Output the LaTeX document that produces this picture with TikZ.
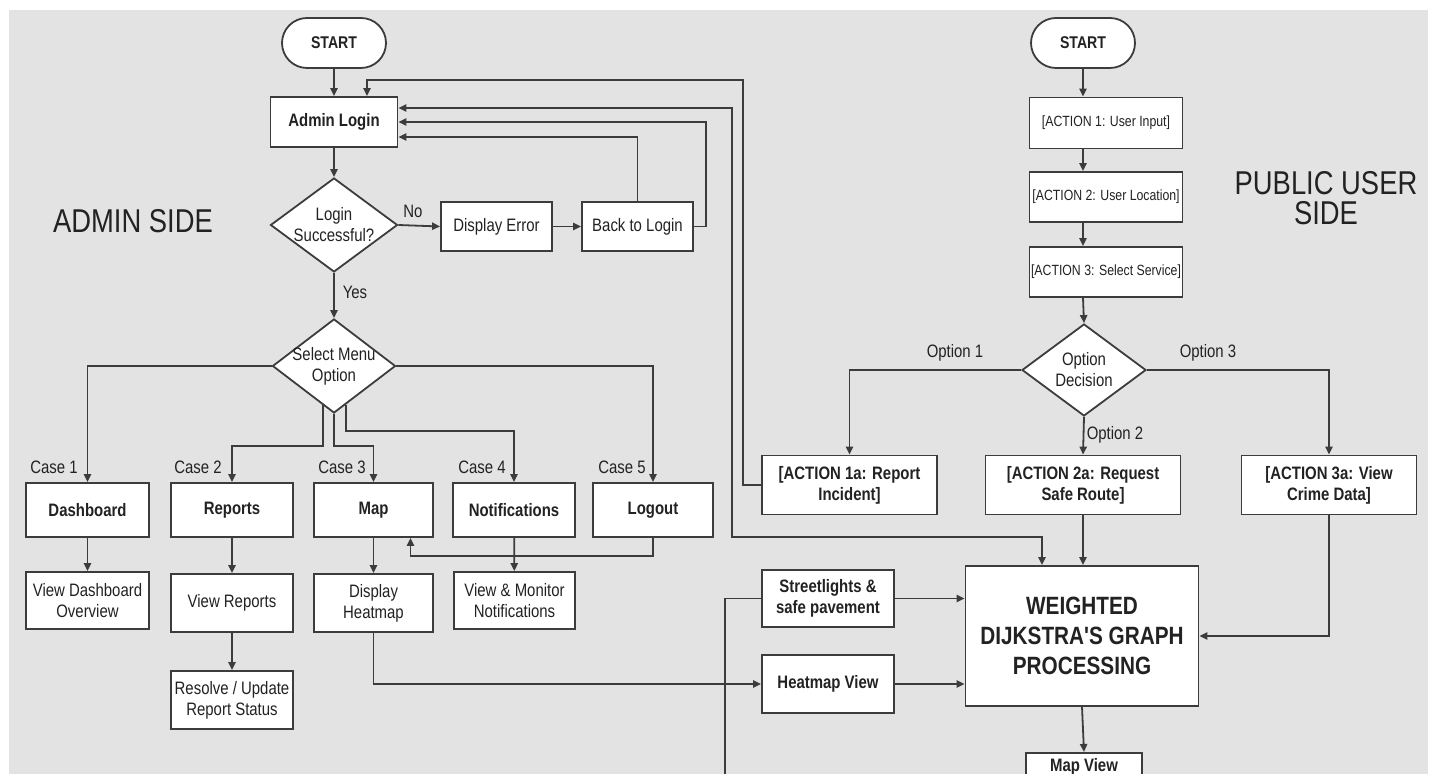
\documentclass[tikz,border=0pt]{standalone}
\usepackage{fontspec}
\setmainfont{Liberation Sans}
\newfontfamily\nf[FakeStretch=0.83]{Liberation Sans}
\usetikzlibrary{arrows.meta,shapes.geometric,calc}
\definecolor{bgc}{HTML}{E3E3E3}
\definecolor{linec}{HTML}{3C3C3C}
\definecolor{txtc}{HTML}{222222}

\begin{document}
\begin{tikzpicture}[x=0.5pt,y=-0.5pt,
  base/.style={font=\nf\fontsize{9}{10.5}\selectfont, text=txtc, align=center, inner sep=0pt},
  box/.style={base, draw=linec, fill=white, line width=0.9pt, rectangle},
  bbox/.style={box, font=\nf\bfseries\fontsize{9}{10.5}\selectfont},
  sbox/.style={box, font=\nf\fontsize{7.4}{9}\selectfont},
  term/.style={box, rounded corners=12.5pt, font=\nf\bfseries\fontsize{8.5}{10}\selectfont,
               minimum width=52pt, minimum height=25pt},
  decision/.style={draw=linec, fill=white, line width=0.9pt, diamond, inner sep=0pt},
  lbl/.style={base},
  ln/.style={draw=linec, line width=0.9pt},
  arr/.style={ln, -{Triangle[length=4pt,width=3.6pt]}},
  biarr/.style={ln, {Triangle[length=4pt,width=3.6pt]}-{Triangle[length=4pt,width=3.6pt]}},
  side/.style={font=\nf\fontsize{16.5}{15}\selectfont, text=txtc, align=center, inner sep=0pt}
]
% canvas
\useasboundingbox (0,0) rectangle (1440,774);
\fill[white] (0,0) rectangle (1440,774);
\fill[bgc] (9,10) rectangle (1428,774);

% ---------------- admin side ----------------
\node[side] (adminT) at (133,221) {ADMIN SIDE};

\node[term] (startA) at (334,43) {START};
\node[bbox, minimum width=63.5pt, minimum height=25pt] (login) at (334,122) {Admin Login};
\node[decision, minimum width=63.5pt, minimum height=47pt] (loginDec) at (334,225) {};
\node[base] (loginDecT) at (loginDec) {Login\\Successful?};
\node[box, minimum width=55.5pt, minimum height=24.5pt] (dispErr) at (496.5,226.5) {Display Error};
\node[box, minimum width=55.5pt, minimum height=24.5pt] (backLogin) at (637.5,226.5) {Back to Login};
\node[decision, minimum width=61.5pt, minimum height=47pt] (selDec) at (334,366) {};
\node[base] (selDecT) at (selDec) {Select Menu\\Option};

\node[bbox, minimum width=61.5pt, minimum height=27pt] (dash) at (87.5,510) {Dashboard};
\node[bbox, minimum width=61pt, minimum height=27pt] (reports) at (232,510) {Reports};
\node[bbox, minimum width=59.5pt, minimum height=27pt] (map) at (373.5,510) {Map};
\node[bbox, minimum width=61pt, minimum height=27pt] (notif) at (514,510) {Notifications};
\node[bbox, minimum width=60pt, minimum height=27pt] (logout) at (653,510) {Logout};

\node[box, minimum width=61.5pt, minimum height=28.5pt] (dashView) at (87.5,600.5) {View Dashboard\\Overview};
\node[box, minimum width=61pt, minimum height=29pt] (repView) at (232,603) {View Reports};
\node[box, minimum width=59.5pt, minimum height=29pt] (heatDisp) at (373.5,603) {Display\\Heatmap};
\node[box, minimum width=60.5pt, minimum height=28.5pt] (notifView) at (514.5,600.5) {View \& Monitor\\Notifications};
\node[box, minimum width=61pt, minimum height=29pt] (resolve) at (232,700) {Resolve / Update\\Report Status};

% labels
\node[lbl] (noL) at (413,211) {No};
\node[lbl] (yesL) at (355,292) {Yes};
\node[lbl] (c1) at (54,467) {Case 1};
\node[lbl] (c2) at (198,467) {Case 2};
\node[lbl] (c3) at (342,467) {Case 3};
\node[lbl] (c4) at (482,467) {Case 4};
\node[lbl] (c5) at (622,467) {Case 5};

% connectors
\draw[arr] (startA) -- (login);
\draw[arr] (login) -- (loginDec);
\draw[arr] (loginDec.east) -- (dispErr.west);
\draw[arr] (dispErr) -- (backLogin);
\draw[arr] (backLogin.north) |- ($(login.east)+(0,15)$);
\draw[arr] (backLogin.east) -- ++(12,0) |- (login.east);
\draw[arr] (loginDec.south) -- (selDec.north);

\draw[arr] (selDec.west) -| (dash.north);
\draw[arr] (selDec.east) -| (logout.north);
\draw[arr] ($(selDec.south)+(-11,-9)$) -- ++(0,41) -| (reports.north);
\draw[arr] (selDec.south) -- ++(0,32) -| (map.north);
\draw[arr] ($(selDec.south)+(12,-9)$) -- ++(0,26) -| (notif.north);

\draw[arr] (dash) -- (dashView);
\draw[arr] (reports) -- (repView);
\draw[arr] (repView) -- (resolve);
\draw[arr] (map) -- (heatDisp);
\draw[arr] (notif) -- (notifView);
\draw[arr] (logout.south) -- ++(0,18) -| ($(map.south)+(37,0)$);

% ---------------- public user side ----------------
\node[side] (publicT) at (1326,198) {PUBLIC USER\\SIDE};

\node[term] (startB) at (1083,43) {START};
\node[sbox, minimum width=76.5pt, minimum height=25.5pt] (act1) at (1106,123) {[ACTION 1: User Input]};
\node[sbox, minimum width=76.5pt, minimum height=25pt] (act2) at (1106,197) {[ACTION 2: User Location]};
\node[sbox, minimum width=76.5pt, minimum height=25pt] (act3) at (1106,272) {[ACTION 3: Select Service]};
\node[decision, minimum width=62pt, minimum height=46pt] (optDec) at (1084,370) {};
\node[base] (optDecT) at (optDec) {Option\\Decision};

\node[bbox, minimum width=87.5pt, minimum height=29.5pt] (act1a) at (849.5,485) {[ACTION 1a: Report\\Incident]};
\node[bbox, minimum width=97.5pt, minimum height=29.5pt] (act2a) at (1083,485) {[ACTION 2a: Request\\Safe Route]};
\node[bbox, minimum width=87.5pt, minimum height=29.5pt] (act3a) at (1329,485) {[ACTION 3a: View\\Crime Data]};

\node[bbox, minimum width=116.5pt, minimum height=70pt,
      font=\nf\bfseries\fontsize{12.5}{15}\selectfont] (wgt) at (1082,636)
      {WEIGHTED\\DIJKSTRA'S GRAPH\\PROCESSING};
\node[bbox, minimum width=66pt, minimum height=28.5pt] (street) at (828,598.5) {Streetlights \&\\safe pavement};
\node[bbox, minimum width=66pt, minimum height=29pt] (heatView) at (828,684) {Heatmap View};
% result box running past the lower edge; its label sits near its top
\node[bbox, anchor=north, minimum width=58pt, inner ysep=3pt, text depth=14pt] (mapView) at (1084,752) {Map View};
\coordinate (stOff) at (725,800);

\node[lbl] (o1) at (955,353) {Option 1};
\node[lbl] (o2) at (1115,435) {Option 2};
\node[lbl] (o3) at (1208,353) {Option 3};

\draw[arr] (startB.south) -- (startB.south |- act1.north);
\draw[arr] (startB.south |- act1.south) -- (startB.south |- act2.north);
\draw[arr] (startB.south |- act2.south) -- (startB.south |- act3.north);
\draw[arr] (startB.south |- act3.south) -- (optDec.north);
\draw[arr] (optDec.west) -| (act1a.north);
\draw[arr] (optDec.south) -- (act2a.north);
\draw[arr] (optDec.east) -| (act3a.north);

\draw[arr] (act2a.south) -- (act2a.south |- wgt.north);
\draw[arr] (act3a.south) |- (wgt.east);
\draw[arr] (street.east) -- (street.east -| wgt.west);
\draw[arr] (heatView.east) -- (heatView.east -| wgt.west);
\draw[arr] (wgt.south) -- (mapView.north);
\draw[ln] (street.west) -| (stOff);
\draw[arr] (heatDisp.south) |- (heatView.west);

% links between the two sides
\draw[arr] (act1a.west) -| (743,80) -| ($(login.north)+(33,0)$);
\draw[biarr] ($(login.east)+(0,-14)$) -| (732,537) -| ($(wgt.north)+(-40,0)$);
\end{tikzpicture}
\end{document}
